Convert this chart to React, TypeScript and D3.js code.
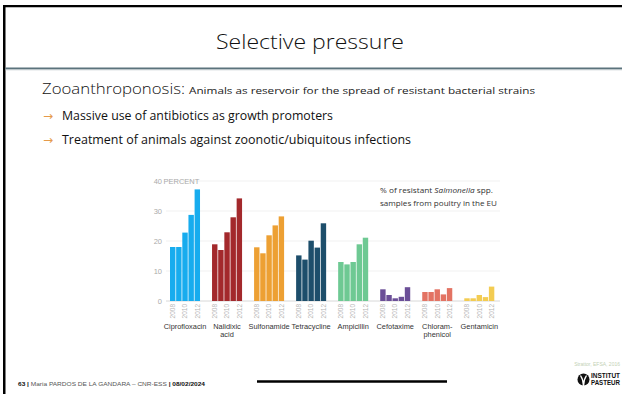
import React from "react";
import * as d3 from "d3";

const categories: string[][] = [
  ["Ciprofloxacin"],
  ["Nalidixic", "acid"],
  ["Sulfonamide"],
  ["Tetracycline"],
  ["Ampicillin"],
  ["Cefotaxime"],
  ["Chloram-", "phenicol"],
  ["Gentamicin"],
];
const years = ["2008", "2009", "2010", "2011", "2012"];
const yearLabels = ["2008", "2010", "2012"];
const ciprofloxacin = [18, 18, 22.8, 28.7, 37.2];
const nalidixic = [18.9, 17, 22.9, 27.9, 34.2];
const sulfonamide = [17.9, 15.9, 21.9, 25.2, 28.2];
const tetracycline = [15.2, 13.8, 20.1, 17.8, 25.9];
const ampicillin = [13, 12.2, 13, 18.9, 21.1];
const cefotaxime = [3.9, 2, 0.9, 1.4, 4.6];
const chloramphenicol = [3, 3, 3.9, 2.2, 4.3];
const gentamicin = [0.9, 0.9, 2, 1.3, 4.8];
const series = [ciprofloxacin, nalidixic, sulfonamide, tetracycline, ampicillin, cefotaxime, chloramphenicol, gentamicin];
const colors = ["#17acee", "#a3292c", "#eda033", "#1d4e6b", "#6ec993", "#6b4f97", "#e37363", "#f3cc52"];
const yTicks = [0, 10, 20, 30, 40];

const gothic = "'Open Sans', 'DejaVu Sans', sans-serif";
const helv = "'Liberation Sans', Arial, sans-serif";

export default function App() {
  const x0 = d3.scaleBand<number>().domain(d3.range(categories.length)).range([170, 494.3]).paddingInner(0.286).paddingOuter(0);
  const x1 = d3.scaleBand<string>().domain(years).range([0, x0.bandwidth()]).paddingInner(0.12).paddingOuter(0);
  const y = d3.scaleLinear().domain([0, 40]).range([301, 181]);

  return (
    <svg width={622} height={394} style={{ position: "absolute", left: 0, top: 0, background: "#fff" }}>
      <rect x={0} y={0} width={622} height={394} fill="#fff" />
      {/* frame */}
      <rect x={3} y={5} width={619} height={2} fill="#000" />
      <rect x={5} y={7} width={617} height={1} fill="#bbb" />
      <rect x={3} y={5} width={2.5} height={389} fill="#000" />
      <rect x={5.5} y={67.5} width={617} height={2} fill="#5b737c" />
      <rect x={5.5} y={69.5} width={617} height={0.8} fill="#c9d2d5" />

      <text x={310} y={48.5} textAnchor="middle" fontFamily={gothic} fontWeight={300} fontSize={21} fill="#111" textLength={188} lengthAdjust="spacingAndGlyphs">Selective pressure</text>

      <text x={42} y={94} fontFamily={gothic} fontWeight={300} fontSize={14} fill="#111" textLength={143} lengthAdjust="spacingAndGlyphs">Zooanthroponosis:</text>
      <text x={189} y={94} fontFamily={gothic} fontSize={8.8} fill="#222" textLength={346} lengthAdjust="spacingAndGlyphs">Animals as reservoir for the spread of resistant bacterial strains</text>

      <text x={43} y={119.5} fontFamily={gothic} fontSize={12} fill="#e59a4a">→</text>
      <text x={62} y={119.5} fontFamily={gothic} fontSize={11.8} fill="#111" textLength={271} lengthAdjust="spacingAndGlyphs">Massive use of antibiotics as growth promoters</text>
      <text x={43} y={143.5} fontFamily={gothic} fontSize={12} fill="#e59a4a">→</text>
      <text x={62} y={143.5} fontFamily={gothic} fontSize={11.8} fill="#111" textLength={349} lengthAdjust="spacingAndGlyphs">Treatment of animals against zoonotic/ubiquitous infections</text>

      {/* chart */}
      <g fontFamily={helv}>
        {yTicks.map((t) => (
          <g key={t}>
            <line x1={166} x2={500} y1={y(t)} y2={y(t)} stroke={t === 0 ? "#d8d8d8" : "#eeeeee"} strokeWidth={t === 0 ? 1 : 0.8} />
            <text x={162} y={y(t)} dy="0.35em" textAnchor="end" fontSize={7.5} fill="#aaa">{t}</text>
          </g>
        ))}
        <text x={163.5} y={y(40)} dy="0.35em" fontSize={7.5} fill="#aaa">PERCENT</text>

        {series.map((vals, i) => (
          <g key={i} transform={`translate(${x0(i)},0)`}>
            {vals.map((v, j) => (
              <rect key={j} x={x1(years[j])} y={y(v)} width={x1.bandwidth()} height={y(0) - y(v)} fill={colors[i]} />
            ))}
            {yearLabels.map((yl) => (
              <text key={yl} transform={`translate(${(x1(yl) as number) + x1.bandwidth() / 2},304) rotate(-90)`} textAnchor="end" dy="0.35em" fontSize={6.5} fill="#b5b5b5">{yl}</text>
            ))}
            {categories[i].map((line, k) => (
              <text key={k} x={x0.bandwidth() / 2} y={329 + k * 8} textAnchor="middle" fontSize={7.4} fill="#333">{line}</text>
            ))}
          </g>
        ))}

        <text x={380} y={193} fontFamily={gothic} fontSize={7.2} fill="#333" textLength={113} lengthAdjust="spacingAndGlyphs">% of resistant <tspan fontStyle="italic">Salmonella</tspan> spp.</text>
        <text x={380} y={205.5} fontFamily={gothic} fontSize={7.2} fill="#333" textLength={117} lengthAdjust="spacingAndGlyphs">samples from poultry in the EU</text>
      </g>

      {/* footer */}
      <text x={18} y={386} fontFamily={helv} fontSize={5.3} fill="#555" textLength={187} lengthAdjust="spacingAndGlyphs">
        <tspan fontWeight="bold" fill="#111">63 | </tspan>Maria PARDOS DE LA GANDARA – CNR-ESS <tspan fontWeight="bold" fill="#111">| 08/02/2024</tspan>
      </text>
      <line x1={257} x2={447} y1={381.5} y2={381.5} stroke="#000" strokeWidth={2.5} />
      <text x={620} y={366} textAnchor="end" fontFamily={helv} fontSize={5} fill="#c3d1b5">Strattor, EFSA, 2016</text>
      <circle cx={583.5} cy={379.5} r={6} fill="#111" />
      <path d="M580.5,375.5 Q583.5,380 583.5,386 M586.5,375.5 Q583.5,380 583.5,386" stroke="#fff" strokeWidth={1.3} fill="none" />
      <text x={591} y={377.5} fontFamily={helv} fontWeight="bold" fontSize={6.6} fill="#111" textLength={29} lengthAdjust="spacingAndGlyphs">INSTITUT</text>
      <text x={591} y={385} fontFamily={helv} fontWeight="bold" fontSize={6.6} fill="#111" textLength={29} lengthAdjust="spacingAndGlyphs">PASTEUR</text>
    </svg>
  );
}
